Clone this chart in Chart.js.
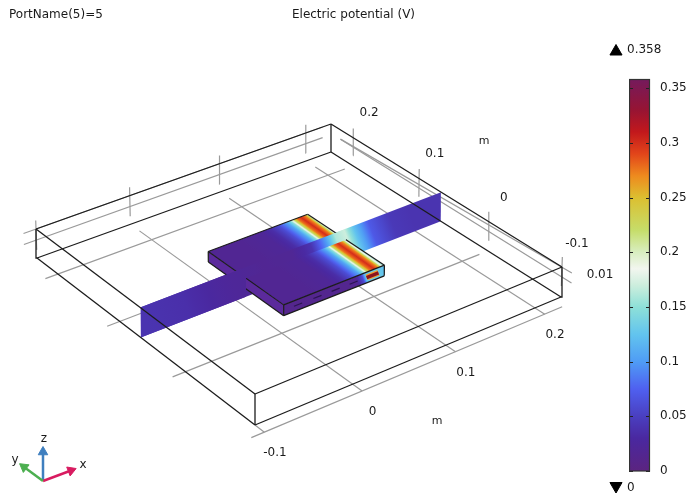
<!DOCTYPE html>
<html><head><meta charset="utf-8">
<script src="https://cdn.jsdelivr.net/npm/chart.js@4"></script>
<style>html,body{margin:0;padding:0;background:#fff}#scene{position:absolute;left:0;top:0}#bar{position:absolute;left:629px;top:55px}</style>
</head><body>
<canvas id="scene" width="689" height="496"></canvas>
<canvas id="bar" width="60" height="435"></canvas>
<script>
// ---- data ----
const headerLeft = 'PortName(5)=5';
const headerCenter = 'Electric potential (V)';
const maxLabel = '0.358';
const minLabel = '0';
const xTicks = [-0.1, 0, 0.1, 0.2];
const yTicks = [-0.1, 0, 0.1, 0.2];
const zTickLabel = '0.01';
const unitLabel = 'm';
const boxX = [-0.1, 0.23];
const boxY = [-0.1, 0.235];
const gridX = [0, 0.1, 0.2];
const gridY = [-0.113, 0, 0.1, 0.2];
const gridXRange = [-0.113, 0.22];
const gridYRange = [-0.113, 0.22];
const stripY = 0.0675;
const plateX = [0.0106, 0.1206];
const plateY = [0.0118, 0.1253];
const plateZ = [0.26, 0.62];
const plateFrac = [0, 0.3, 0.5, 0.6, 0.68, 0.76, 0.8, 0.83, 0.86, 0.9, 0.94, 0.97, 1];
const plateV = [0.018, 0.018, 0.022, 0.035, 0.06, 0.105, 0.15, 0.22, 0.275, 0.3, 0.27, 0.19, 0.14];
const stripPos = [-0.1, -0.058, -0.016, 0.027, 0.059, 0.08, 0.096, 0.107, 0.118, 0.128, 0.145, 0.168, 0.19, 0.23];
const stripV = [0.04, 0.036, 0.025, 0.018, 0.02, 0.04, 0.1, 0.16, 0.17, 0.125, 0.07, 0.045, 0.04, 0.04];
const sideFrac = [0, 0.7, 0.77, 0.8, 0.86, 0.93, 1];
const sideV = [0.012, 0.015, 0.06, 0.125, 0.13, 0.13, 0.12];
const slotStart = [0.1, 0.29, 0.47, 0.65];
const slotEnd = [0.18, 0.37, 0.55, 0.73];
const portSpan = [0.82, 0.94];
const cbLevels = [0, 0.03, 0.05, 0.075, 0.1, 0.125, 0.15, 0.17, 0.185, 0.2, 0.22, 0.25, 0.27, 0.29, 0.31, 0.33, 0.358];
const cbColors = ['#5b2480','#4a28a0','#4a3fc0','#4f60f0','#4f9cf5','#62c4ee','#8ee0d8','#cdeedd','#f2f6ef','#d8eec0','#c6dd6a','#dcbf30','#ee8a1e','#e2451a','#c2181c','#971433','#751a5c'];
const cbTicks = [0, 0.05, 0.1, 0.15, 0.2, 0.25, 0.3, 0.35];

// ---- view (camera) ----
const floorQuad = [[255,425],[561,297],[331,152],[37,258]];
const roofQuad  = [[255,394],[562,267],[331,124],[36,229]];
function homography(q){
  const [[x0,y0],[x1,y1],[x2,y2],[x3,y3]] = q;
  const dx1=x1-x2,dx2=x3-x2,sx=x0-x1+x2-x3,dy1=y1-y2,dy2=y3-y2,sy=y0-y1+y2-y3;
  const den=dx1*dy2-dx2*dy1;
  const g=(sx*dy2-dx2*sy)/den,h=(dx1*sy-sx*dy1)/den;
  const a=x1-x0+g*x1,b=x3-x0+h*x3,d=y1-y0+g*y1,e=y3-y0+h*y3;
  return (u,v)=>{const w=g*u+h*v+1;return [(a*u+b*v+x0)/w,(d*u+e*v+y0)/w];};
}
const Hf=homography(floorQuad),Hr=homography(roofQuad);
function P(x,y,f){
  const u=(x-boxX[0])/(boxX[1]-boxX[0]),v=(y-boxY[0])/(boxY[1]-boxY[0]);
  const a=Hf(u,v),b=Hr(u,v);
  return {x:a[0]+(b[0]-a[0])*f,y:a[1]+(b[1]-a[1])*f};
}
function rgb(h){return [1,3,5].map(i=>parseInt(h.substr(i,2),16));}
function cmap(v){
  let i=0;while(i<cbLevels.length-2&&v>cbLevels[i+1])i++;
  const t=Math.max(0,Math.min(1,(v-cbLevels[i])/(cbLevels[i+1]-cbLevels[i])));
  const a=rgb(cbColors[i]),b=rgb(cbColors[i+1]);
  return 'rgb('+a.map((c,k)=>Math.round(c+(b[k]-c)*t)).join(',')+')';
}
function paint(chart,a,b,fr,vals){
  const sx=chart.scales.x,sy=chart.scales.y;
  if(!sx||!chart.chartArea)return '#4a28a0';
  const g=chart.ctx.createLinearGradient(sx.getPixelForValue(a.x),sy.getPixelForValue(a.y),sx.getPixelForValue(b.x),sy.getPixelForValue(b.y));
  for(let i=0;i<fr.length-1;i++){
    for(let k=0;k<5;k++){
      const t=k/5;
      g.addColorStop(Math.max(0,Math.min(1,fr[i]+(fr[i+1]-fr[i])*t)),cmap(vals[i]+(vals[i+1]-vals[i])*t));
    }
  }
  g.addColorStop(Math.max(0,Math.min(1,fr[fr.length-1])),cmap(vals[vals.length-1]));
  return g;
}

// ---- datasets ----
const sets=[];
function line(pts,color,width){
  sets.push({data:pts,showLine:true,borderColor:color,borderWidth:width,pointRadius:0,fill:false,tension:0,order:-sets.length});
}
function area(up,low,bg){
  sets.push({data:up,showLine:true,borderColor:'transparent',borderWidth:1,pointRadius:0,fill:'+1',backgroundColor:bg,tension:0,order:-sets.length});
  sets.push({data:low,showLine:true,borderColor:'transparent',borderWidth:1,pointRadius:0,fill:false,tension:0,order:-sets.length});
}
const GRAY='#9a9a9a',BLACK='#1c1c1c';
const [X0,X1]=boxX,[Y0,Y1]=boxY;
// floor grid and axis frame
gridX.forEach(x=>line([P(x,gridXRange[0],0),P(x,gridXRange[1],0)],GRAY,1.2));
gridY.forEach(y=>line([P(gridYRange[0],y,0),P(gridYRange[1],y,0)],GRAY,1.2));
line([P(X0,Y0,0),P(X0,-0.113,0)],GRAY,1.2);
line([P(gridYRange[0],Y1,1),P(gridYRange[1],Y1,1)],GRAY,1.2);
line([P(gridYRange[0],Y1,0.62),P(gridYRange[1],Y1,0.62)],GRAY,1.2);
line([P(X1,gridXRange[1],0.67),P(X1,gridXRange[0],0.67)],GRAY,1.2);
line([P(X1,gridXRange[1],0.67),P(X1,gridXRange[0],1)],GRAY,1.2);
xTicks.forEach(x=>line([P(x,Y1,0.28),P(x,Y1,1.29)],GRAY,1.2));
yTicks.forEach(y=>line([P(X1,y,0.37),P(X1,y,1.33)],GRAY,1.2));

// strip (full)
const stripFill=ctx=>{
  const a=P(X0,stripY,1),b=P(X1,stripY,1);
  return paint(ctx.chart,a,b,stripPos.map(x=>(P(x,stripY,1).x-a.x)/(b.x-a.x)),stripV);
};
area([P(X0,stripY,1),P(X1,stripY,1)],[P(X0,stripY,0),P(X1,stripY,0)],stripFill);

// plate
const [PX0,PX1]=plateX,[PY0,PY1]=plateY,[ZB,ZT]=plateZ;
const pL=P(PX0,PY1,ZT),pB=P(PX1,PY1,ZT),pR=P(PX1,PY0,ZT),pF=P(PX0,PY0,ZT);
const qL=P(PX0,PY1,ZB),qR=P(PX1,PY0,ZB),qF=P(PX0,PY0,ZB);
area([pF,pR],[qF,qR],ctx=>paint(ctx.chart,pF,pR,sideFrac,sideV));
area([pL,pF],[qL,qF],'#5b2a9c');
area([pL,pB,pR],[pL,pF,pR],ctx=>{
  const dx=pL.x-pF.x,dy=pL.y-pF.y,len=Math.hypot(dx,dy);
  const nx=-dy/len,ny=dx/len;
  const s=(pR.x-pF.x)*nx+(pR.y-pF.y)*ny;
  return paint(ctx.chart,pF,{x:pF.x+nx*s,y:pF.y+ny*s},plateFrac,plateV);
});
const faceF=(ZB+ZT)/2;
slotStart.forEach((s,i)=>{
  const a=PX0+(PX1-PX0)*s,b=PX0+(PX1-PX0)*slotEnd[i];
  line([P(a,PY0,faceF),P(b,PY0,faceF)],'#2a1550',1.2);
});
const portA=PX0+(PX1-PX0)*portSpan[0],portB=PX0+(PX1-PX0)*portSpan[1];
line([P(portA,PY0,faceF),P(portB,PY0,faceF)],'#f0a030',6);
line([P(portA,PY0,faceF),P(portB,PY0,faceF)],'#8a1420',3.5);
[[pL,pB],[pB,pR],[pR,pF],[pF,pL],[qL,qF],[qF,qR],[pL,qL],[pF,qF],[pR,qR]].forEach(s=>line(s,BLACK,1.2));
// strip parts in front of the plate
area([P(X0,stripY,1),P(PX0,stripY,1)],[P(X0,stripY,0),P(PX0,stripY,0)],stripFill);
area([P(PX0,stripY,1),P(PX1,stripY,1)],[P(PX0,stripY,ZT),P(PX1,stripY,ZT)],stripFill);

// box edges
const cor=[[X0,Y0],[X1,Y0],[X1,Y1],[X0,Y1]];
cor.forEach((c,i)=>{
  const n=cor[(i+1)%4];
  line([P(c[0],c[1],0),P(n[0],n[1],0)],BLACK,1.3);
  line([P(c[0],c[1],1),P(n[0],n[1],1)],BLACK,1.3);
  line([P(c[0],c[1],0),P(c[0],c[1],1)],BLACK,1.3);
});

// orientation triad, view units
const triadO={x:43,y:481};
const triad=[{tip:{x:43,y:452},c:'#3f7fbf',rot:0},{tip:{x:71,y:470.5},c:'#d81b60',rot:69},{tip:{x:24,y:467},c:'#4caf50',rot:-53}];
triad.forEach(t=>{
  line([triadO,t.tip],t.c,2.5);
  sets.push({data:[t.tip],showLine:false,pointStyle:'triangle',pointRadius:5.5,pointRotation:t.rot,pointBackgroundColor:t.c,pointBorderColor:t.c,order:-sets.length});
});
// max / min markers
sets.push({data:[{x:616,y:51.5}],showLine:false,pointStyle:'triangle',pointRadius:7,pointRotation:0,pointBackgroundColor:'#000',pointBorderColor:'#000',order:-sets.length});
sets.push({data:[{x:616,y:486}],showLine:false,pointStyle:'triangle',pointRadius:7,pointRotation:180,pointBackgroundColor:'#000',pointBorderColor:'#000',order:-sets.length});

const FONT='12px "DejaVu Sans"';
const texts=[
  {t:headerLeft,x:9,y:15,a:'left'},
  {t:headerCenter,x:353.5,y:15,a:'center'},
  {t:maxLabel,x:627,y:50,a:'left'},
  {t:minLabel,x:627,y:488,a:'left'},
  {t:unitLabel,x:484,y:141,a:'center',f:'11px "DejaVu Sans"'},
  {t:unitLabel,x:437,y:421,a:'center',f:'11px "DejaVu Sans"'},
  {t:zTickLabel,x:600,y:275,a:'center'},
  {t:'z',x:44,y:439,a:'center'},{t:'x',x:83,y:465,a:'center'},{t:'y',x:15,y:460,a:'center'}
];
xTicks.forEach(v=>{const p=P(v,Y0,0);texts.push({t:String(v),x:p.x+20,y:p.y+27.5,a:'center'});});
yTicks.forEach(v=>{const p=P(X1,v,0);texts.push({t:String(v),x:p.x+16,y:p.y-53.5,a:'center'});});

new Chart(document.getElementById('scene'),{
  type:'scatter',
  data:{datasets:sets},
  options:{
    responsive:false,animation:false,events:[],
    layout:{padding:0,autoPadding:false},
    scales:{x:{type:'linear',min:0,max:689,display:false},y:{type:'linear',min:0,max:496,reverse:true,display:false}},
    plugins:{legend:{display:false},tooltip:{enabled:false},title:{display:false}}
  },
  plugins:[{id:'sceneText',afterDraw(c){
    const ctx=c.ctx;ctx.save();ctx.fillStyle='#1a1a1a';ctx.textBaseline='middle';
    texts.forEach(o=>{ctx.font=o.f||FONT;ctx.textAlign=o.a;ctx.fillText(o.t,c.scales.x.getPixelForValue(o.x),c.scales.y.getPixelForValue(o.y));});
    ctx.restore();
  }}]
});

new Chart(document.getElementById('bar'),{
  type:'bar',
  data:{labels:['V'],datasets:[{
    data:[[cbLevels[0],cbLevels[cbLevels.length-1]]],
    barPercentage:1,categoryPercentage:1,borderWidth:0,
    backgroundColor:ctx=>{
      const c=ctx.chart;if(!c.chartArea)return '#4a28a0';
      const s=c.scales.y;const top=cbLevels[cbLevels.length-1];
      const g=c.ctx.createLinearGradient(0,s.getPixelForValue(0),0,s.getPixelForValue(top));
      cbLevels.forEach((v,i)=>g.addColorStop(v/top,cbColors[i]));
      return g;
    }
  }]},
  options:{
    responsive:false,animation:false,events:[],
    layout:{padding:{top:24.5,bottom:19,left:0,right:0},autoPadding:false},
    plugins:{legend:{display:false},tooltip:{enabled:false}},
    scales:{
      x:{display:false},
      y:{position:'right',min:0,max:cbLevels[cbLevels.length-1],
        afterFit(s){s.width=39;},
        border:{display:false},
        grid:{display:false,drawTicks:false},
        ticks:{includeBounds:false,stepSize:0.05,padding:10,color:'#1a1a1a',font:{family:'DejaVu Sans',size:12},
          callback:v=>{const m=cbTicks.find(t=>Math.abs(t-v)<1e-6);return m===undefined?'':String(m);}}
      }
    }
  },
  plugins:[{id:'frame',afterDatasetsDraw(c){
    const a=c.chartArea,ctx=c.ctx,s=c.scales.y;ctx.save();
    ctx.strokeStyle='#222';ctx.lineWidth=1;
    cbTicks.forEach(v=>{
      const y=Math.round(s.getPixelForValue(v))+.5;
      ctx.beginPath();ctx.moveTo(a.left,y);ctx.lineTo(a.left+4,y);ctx.moveTo(a.right-4,y);ctx.lineTo(a.right,y);ctx.stroke();
    });
    ctx.strokeStyle='#333';ctx.lineWidth=1.2;ctx.strokeRect(a.left+.5,a.top,a.right-a.left-1,a.bottom-a.top);ctx.restore();
  }}]
});
</script>
</body></html>
